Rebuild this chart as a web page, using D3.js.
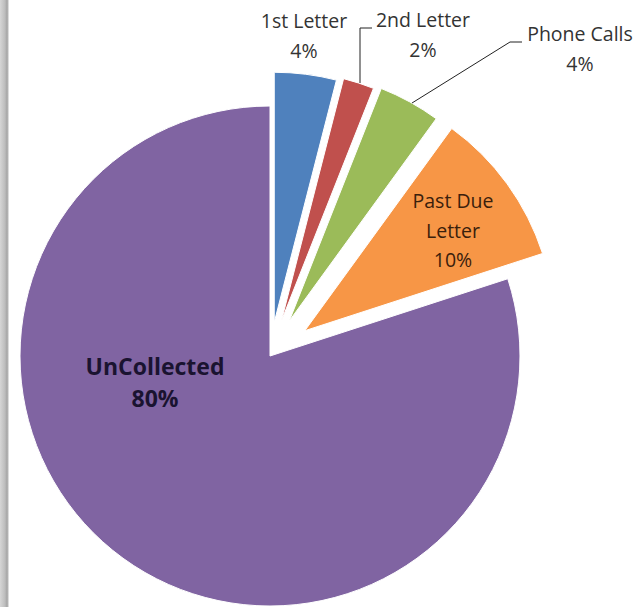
<!DOCTYPE html>
<html>
<head>
<meta charset="utf-8">
<script src="https://cdn.jsdelivr.net/npm/d3@7"></script>
<style>
  body { margin: 0; background: #fff; }
  svg { display: block; }
</style>
</head>
<body>
<svg id="chart"></svg>
<script>
const categories = ["1st Letter", "2nd Letter", "Phone Calls", "Past Due Letter", "UnCollected"];
const values = [4, 2, 4, 10, 80];
const percentLabels = ["4%", "2%", "4%", "10%", "80%"];

const width = 639;
const height = 607;
const cx = 270, cy = 356, radius = 250;

const colors = ["#4f81bd", "#c0504d", "#9bbb59", "#f79646", "#8064a2"];
const explode = [34, 37, 40, 43, 0];

const svg = d3.select("#chart")
    .attr("width", width)
    .attr("height", height);

// grey frame edge on the left
const grad = svg.append("defs").append("linearGradient")
    .attr("id", "edge")
    .attr("x1", "0").attr("x2", "1").attr("y1", "0").attr("y2", "0");
grad.append("stop").attr("offset", "0").attr("stop-color", "#d6d6d6");
grad.append("stop").attr("offset", "0.55").attr("stop-color", "#bdbdbd");
grad.append("stop").attr("offset", "0.8").attr("stop-color", "#a3a3a3");
grad.append("stop").attr("offset", "1").attr("stop-color", "#f2f2f2");
svg.append("rect")
    .attr("x", 0).attr("y", 0)
    .attr("width", 9).attr("height", height)
    .attr("fill", "url(#edge)");

const pie = d3.pie().sort(null).value(d => d)(values);
const arc = d3.arc().innerRadius(0).outerRadius(radius);

const g = svg.append("g").attr("transform", "translate(" + cx + "," + cy + ")");

g.selectAll("path")
    .data(pie)
    .join("path")
    .attr("transform", (d, i) => {
        const mid = (d.startAngle + d.endAngle) / 2;
        return "translate(" + (Math.sin(mid) * explode[i]) + "," + (-Math.cos(mid) * explode[i]) + ")";
    })
    .attr("d", arc)
    .attr("fill", (d, i) => colors[i])
    .attr("stroke", "#fff")
    .attr("stroke-width", 1);

// leader lines
const leaders = [
    [[372, 28], [360, 28], [360, 83]],
    [[522, 42], [510, 42], [412, 103]]
];
svg.append("g")
    .selectAll("path")
    .data(leaders)
    .join("path")
    .attr("d", d3.line())
    .attr("fill", "none")
    .attr("stroke", "#222")
    .attr("stroke-width", 1);

// labels
const labelPos = [
    {x: 304, y: 28, lines: ["1st Letter"]},
    {x: 423, y: 27, lines: ["2nd Letter"]},
    {x: 580, y: 41, lines: ["Phone Calls"]},
    {x: 453, y: 208, lines: ["Past Due", "Letter"]},
    {x: 155, y: 375, lines: ["UnCollected"]}
];

const labels = svg.append("g")
    .attr("font-family", "'Open Sans', sans-serif")
    .attr("text-anchor", "middle");

labelPos.forEach((p, i) => {
    const bold = i === 4;
    const t = labels.append("text")
        .attr("x", p.x)
        .attr("y", p.y)
        .attr("font-size", bold ? 23 : 19.5)
        .attr("font-weight", bold ? "bold" : "normal")
        .attr("fill", bold ? "#1a1330" : (i === 3 ? "#3a200c" : "#333"));
    const lh = bold ? 32 : 29.5;
    p.lines.concat([percentLabels[i]]).forEach((s, k) => {
        t.append("tspan")
            .attr("x", p.x)
            .attr("dy", k === 0 ? 0 : lh)
            .text(s);
    });
});
</script>
</body>
</html>
